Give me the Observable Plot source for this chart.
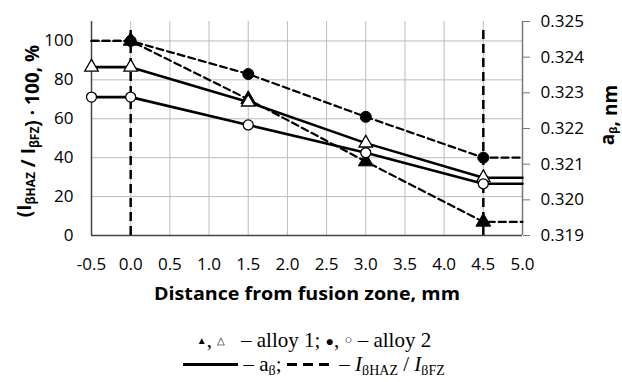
<!DOCTYPE html>
<html>
<head>
<meta charset="utf-8">
<script src="https://cdn.jsdelivr.net/npm/d3@7"></script>
<script src="https://cdn.jsdelivr.net/npm/@observablehq/plot@0.6"></script>
<style>
  html, body { margin: 0; padding: 0; background: #fff; }
  #chart { width: 622px; height: 312px; }
  .legend { font-family: "Liberation Serif", "Times New Roman", serif; font-size: 21px; color: #000; text-align: center; line-height: 22px; padding-top: 17px; padding-left: 6px; }
  .legend .sym-s { font-size: 10px; vertical-align: 3px; }
  .legend .sym-m { font-size: 14px; vertical-align: 1px; }
  .legend .solid { display: inline-block; width: 55px; border-top: 3px solid #000; vertical-align: 5px; }
  .legend .dash { display: inline-block; width: 42px; height: 3px; vertical-align: 5px;
    background: repeating-linear-gradient(90deg, #000 0 10px, transparent 10px 16px); }
  .legend sub { font-size: 14px; vertical-align: -4px; line-height: 0; }
</style>
</head>
<body>
<div id="chart"></div>
<div class="legend">
  <div><span class="sym-s">▲</span>, <span class="sym-s">△</span>&nbsp;&nbsp; – alloy 1; <span class="sym-m">●</span>, <span class="sym-s" style="font-size:13px">○</span> – alloy 2</div>
  <div><span class="solid"></span> – a<sub>β</sub>; <span class="dash"></span>&nbsp; – <i>I</i><sub>βHAZ</sub> / <i>I</i><sub>βFZ</sub></div>
</div>
<script>
// ---- data ----
const distance = [-0.5, 0.0, 1.5, 3.0, 4.5, 5.0];
const ratioAlloy1 = [100, 100, 70, 38, 7, 7];      // I_bHAZ/I_bFZ*100, %  (filled triangles, dashed)
const ratioAlloy2 = [100, 100, 83, 61, 40, 40];    // (filled circles, dashed)
const latticeAlloy1 = [0.32372, 0.32372, 0.32274, 0.32159, 0.32062, 0.32062]; // a_b, nm (open triangles, solid)
const latticeAlloy2 = [0.32288, 0.32288, 0.32210, 0.32132, 0.32045, 0.32045]; // (open circles, solid)
const xTicks = [-0.5, 0.0, 0.5, 1.0, 1.5, 2.0, 2.5, 3.0, 3.5, 4.0, 4.5, 5.0];
const yTicks = [0, 20, 40, 60, 80, 100];
const rightTicks = [0.319, 0.320, 0.321, 0.322, 0.323, 0.324, 0.325];
const boundaries = [0.0, 4.5];

const leftDomain = [0, 110];
const rightDomain = [0.319, 0.325];
const nmToLeft = d3.scaleLinear().domain(rightDomain).range(leftDomain);

const series = [
  {name: "ratio alloy 1", kind: "dashed", symbol: "triangle", fill: "black", values: ratioAlloy1, nm: false},
  {name: "ratio alloy 2", kind: "dashed", symbol: "circle", fill: "black", values: ratioAlloy2, nm: false},
  {name: "a alloy 1", kind: "solid", symbol: "triangle", fill: "white", values: latticeAlloy1, nm: true},
  {name: "a alloy 2", kind: "solid", symbol: "circle", fill: "white", values: latticeAlloy2, nm: true}
];
const rows = series.flatMap(s => distance.map((x, i) => ({
  series: s.name, kind: s.kind, symbol: s.symbol, fill: s.fill, x,
  y: s.nm ? nmToLeft(s.values[i]) : s.values[i]
})));
const dashedRows = rows.filter(d => d.kind === "dashed");
const solidRows = rows.filter(d => d.kind === "solid");
const dashedMarkers = dashedRows.filter(d => d.x >= 0 && d.x <= 4.5);
const solidMarkers = solidRows.filter(d => d.x <= 4.5);

const plot = Plot.plot({
  width: 622, height: 312,
  marginLeft: 91, marginRight: 100, marginTop: 21, marginBottom: 77,
  x: {domain: [-0.5, 5.0]},
  y: {domain: leftDomain},
  style: {fontFamily: "'Open Sans', sans-serif", fontSize: "17px", color: "#000", background: "#fff", overflow: "visible"},
  marks: [
    Plot.gridX(xTicks, {stroke: "#bcbcbc", strokeOpacity: 1, strokeWidth: 1}),
    Plot.gridY(yTicks, {stroke: "#bcbcbc", strokeOpacity: 1, strokeWidth: 1}),
    Plot.axisX(xTicks, {tickSize: 0, tickPadding: 22, tickFormat: d => d.toFixed(1), label: null}),
    Plot.axisY(yTicks, {tickSize: 0, tickPadding: 18, label: null}),
    Plot.axisY(rightTicks.map(v => nmToLeft(v)), {anchor: "right", tickSize: 7, tickPadding: 11, stroke: "#777",
      tickFormat: d => nmToLeft.invert(d).toFixed(3), label: null}),
    Plot.ruleX([-0.5], {stroke: "#444", strokeWidth: 1.5}),
    Plot.ruleX([5.0], {stroke: "#777", strokeWidth: 1.5}),
    Plot.ruleY([0], {stroke: "#444", strokeWidth: 1.5}),
    Plot.ruleX(boundaries, {y1: 0, y2: 108, stroke: "#000", strokeWidth: 2.5, strokeDasharray: "9,5"}),
    Plot.line(dashedRows, {x: "x", y: "y", z: "series", stroke: "#000", strokeWidth: 2.2, strokeDasharray: "7,4"}),
    Plot.line(solidRows, {x: "x", y: "y", z: "series", stroke: "#000", strokeWidth: 2.6}),
    Plot.dot(dashedMarkers, {x: "x", y: "y", symbol: "symbol", fill: "fill", stroke: "#000", r: 5.5, strokeWidth: 1}),
    Plot.dot(solidMarkers, {x: "x", y: "y", symbol: "symbol", fill: "fill", stroke: "#000", r: 5, strokeWidth: 1.3})
  ]
});
document.getElementById("chart").appendChild(plot);

// ---- axis titles with subscripts ----
const svg = d3.select(plot);
function addSub(text, parts, dy, fs) {
  parts.forEach(p => {
    if (p.sub) {
      text.append("tspan").attr("dy", dy).attr("font-size", fs).text(p.t);
      text.append("tspan").attr("dy", -dy).text("");
    } else {
      text.append("tspan").text(p.t);
    }
  });
}
const leftTitle = svg.append("text")
  .attr("transform", "translate(31,131) rotate(-90)")
  .attr("text-anchor", "middle").attr("font-weight", "bold").attr("font-size", 19)
  .attr("font-family", "'Open Sans', sans-serif").attr("fill", "#000");
addSub(leftTitle, [{t: "(I"}, {t: "βHAZ", sub: true}, {t: " / I"}, {t: "βFZ", sub: true}, {t: ") · 100, %"}], 4, 12);

const rightTitle = svg.append("text")
  .attr("transform", "translate(614,115) rotate(-90)")
  .attr("text-anchor", "middle").attr("font-weight", "bold").attr("font-size", 19)
  .attr("font-family", "'Open Sans', sans-serif").attr("fill", "#000");
addSub(rightTitle, [{t: "a"}, {t: "β", sub: true}, {t: ", nm"}], 3, 11);

svg.append("text")
  .attr("x", 307).attr("y", 300)
  .attr("text-anchor", "middle").attr("font-weight", "bold").attr("font-size", 18)
  .attr("font-family", "'Open Sans', sans-serif").attr("fill", "#000")
  .attr("textLength", 306).attr("lengthAdjust", "spacingAndGlyphs")
  .text("Distance from fusion zone, mm");
</script>
</body>
</html>
